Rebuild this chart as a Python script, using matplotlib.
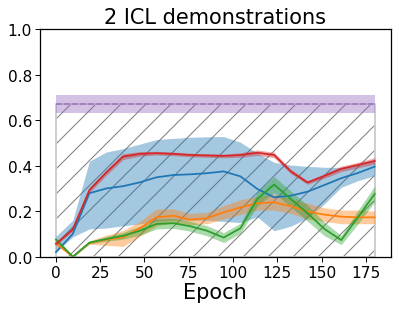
import matplotlib
matplotlib.use("Agg")
from matplotlib import pyplot as plt
import numpy as np

# ---- data ----
epochs = [0, 9.5, 18.9, 28.4, 37.9, 47.4, 56.8, 66.3, 75.8, 85.3,
          94.7, 104.2, 113.7, 123.2, 132.6, 142.1, 151.6, 161.1, 170.5, 180]

blue_mean = [0.02, 0.10, 0.279, 0.30, 0.31, 0.327, 0.349, 0.359, 0.362, 0.367,
             0.375, 0.353, 0.298, 0.261, 0.268, 0.286, 0.315, 0.345, 0.368, 0.396]
blue_lo = [0.02, 0.087, 0.122, 0.126, 0.136, 0.144, 0.155, 0.16, 0.16, 0.16,
           0.155, 0.15, 0.175, 0.114, 0.134, 0.17, 0.232, 0.305, 0.334, 0.356]
blue_hi = [0.09, 0.16, 0.42, 0.46, 0.475, 0.495, 0.515, 0.52, 0.525, 0.527,
           0.528, 0.503, 0.455, 0.415, 0.403, 0.397, 0.393, 0.393, 0.403, 0.422]

orange_mean = [0.06, 0.0, 0.06, 0.075, 0.085, 0.125, 0.173, 0.18, 0.163, 0.169,
               0.195, 0.217, 0.235, 0.239, 0.222, 0.198, 0.185, 0.176, 0.173, 0.173]
orange_lo = [0.05, 0.0, 0.055, 0.05, 0.045, 0.09, 0.135, 0.15, 0.14, 0.145,
             0.165, 0.185, 0.205, 0.205, 0.19, 0.165, 0.155, 0.145, 0.145, 0.145]
orange_hi = [0.07, 0.005, 0.07, 0.095, 0.115, 0.155, 0.21, 0.21, 0.19, 0.195,
             0.225, 0.25, 0.265, 0.275, 0.255, 0.235, 0.215, 0.205, 0.205, 0.2]

green_mean = [0.075, 0.0, 0.062, 0.078, 0.092, 0.114, 0.144, 0.147, 0.134, 0.114,
              0.084, 0.125, 0.254, 0.317, 0.254, 0.191, 0.122, 0.073, 0.173, 0.276]
green_sd = [0.01, 0.005, 0.005, 0.01, 0.015, 0.02, 0.022, 0.022, 0.022, 0.022,
            0.022, 0.022, 0.03, 0.035, 0.035, 0.035, 0.03, 0.02, 0.03, 0.035]

red_mean = [0.056, 0.12, 0.293, 0.37, 0.44, 0.452, 0.455, 0.452, 0.447, 0.445,
            0.443, 0.447, 0.457, 0.447, 0.375, 0.326, 0.355, 0.386, 0.403, 0.421]
red_sd = [0.008, 0.008, 0.012, 0.012, 0.013, 0.01, 0.008, 0.008, 0.008, 0.008,
          0.008, 0.01, 0.012, 0.012, 0.01, 0.008, 0.01, 0.012, 0.012, 0.014]

ceiling_mean = 0.67
ceiling_lo, ceiling_hi = 0.63, 0.71

DPI = 75
plt.rcParams["hatch.linewidth"] = 1.0
plt.rcParams["axes.linewidth"] = 1.2

fig = plt.figure(figsize=(399 / DPI, 313 / DPI), dpi=DPI)
ax = fig.add_axes([0.1003, 0.1767, 0.8787, 0.7268])

x = np.array(epochs)
x_span = [x[0], x[-1]]

# hatched region under the ceiling, then its light edge
ax.fill_between(x_span, 0, ceiling_mean, hatch="/", facecolor="none",
                edgecolor="gray", linewidth=0, zorder=1)
ax.fill_between(x_span, 0, ceiling_mean, facecolor="none",
                edgecolor="#cccccc", linewidth=1.8, zorder=1)

# ceiling band
ax.fill_between(x_span, ceiling_lo, ceiling_hi, color="tab:purple", alpha=0.4,
                linewidth=0, zorder=2)
ax.plot(x_span, [ceiling_mean, ceiling_mean], color="tab:purple", ls="--",
        lw=1.45, alpha=0.8, zorder=3)

ax.fill_between(x, blue_lo, blue_hi, color="tab:blue", alpha=0.4, linewidth=0, zorder=2)
ax.fill_between(x, orange_lo, orange_hi, color="tab:orange", alpha=0.4, linewidth=0, zorder=2)
g = np.array(green_mean); gs = np.array(green_sd)
ax.fill_between(x, g - gs, g + gs, color="tab:green", alpha=0.4, linewidth=0, zorder=2)
r = np.array(red_mean); rs = np.array(red_sd)
ax.fill_between(x, r - rs, r + rs, color="tab:red", alpha=0.4, linewidth=0, zorder=2)

ax.plot(x, blue_mean, color="tab:blue", lw=1.7, zorder=4)
ax.plot(x, orange_mean, color="tab:orange", lw=1.7, zorder=4)
ax.plot(x, green_mean, color="tab:green", lw=1.7, zorder=4)
ax.plot(x, red_mean, color="tab:red", lw=1.7, zorder=4)

ax.set_xlim(-9, 189)
ax.set_ylim(0, 1)
ax.set_xticks([0, 25, 50, 75, 100, 125, 150, 175])
ax.set_yticks([0.0, 0.2, 0.4, 0.6, 0.8, 1.0])
ax.tick_params(labelsize=14.8, length=4.7, width=0.93, pad=2.9)
ax.set_xlabel("Epoch", fontsize=20, labelpad=2)
ax.set_title("2 ICL demonstrations", fontsize=20, pad=6)

fig.savefig("out.png", dpi=DPI)
